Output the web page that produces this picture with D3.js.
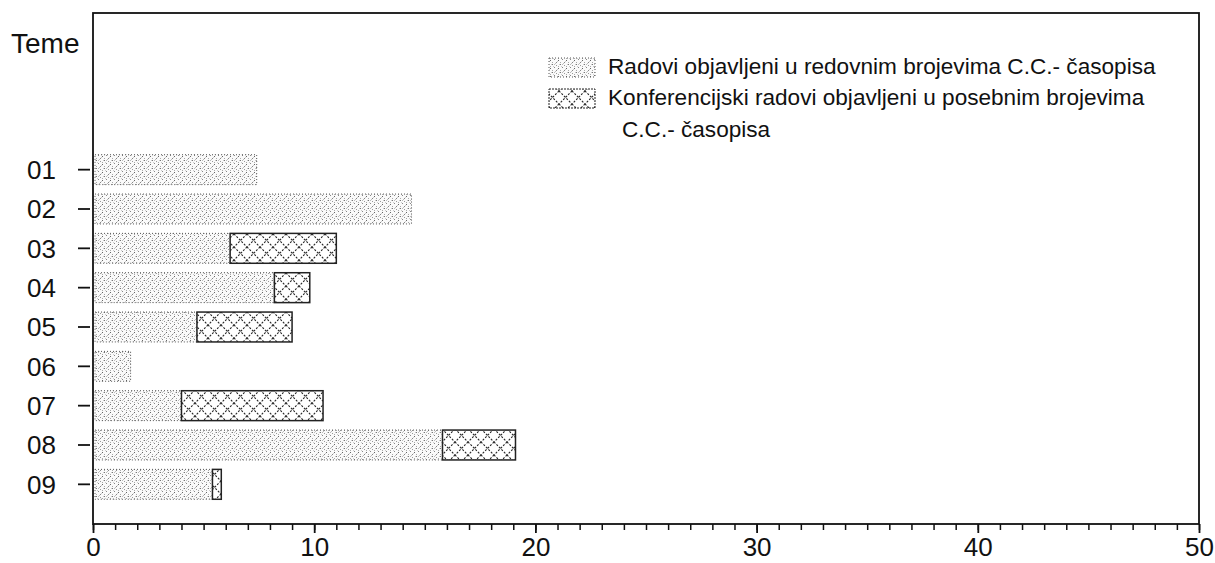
<!DOCTYPE html>
<html lang="hr">
<head>
    <meta charset="UTF-8">
    <title>Teme</title>
    <script src="https://d3js.org/d3.v7.min.js"></script>
    <style>
        body { margin: 0; background: #fff; }
        svg { display: block; font-family: "Liberation Sans", Arial, sans-serif; }
        .tick-label { font-size: 26px; fill: #111; }
        .legend-text { font-size: 22.6px; fill: #111; }
    </style>
</head>
<body>
<svg id="chart" width="1215" height="563"></svg>
<script>
    // teme i broj radova
    const categories = ["01", "02", "03", "04", "05", "06", "07", "08", "09"];
    const regular = [7.4, 14.4, 6.2, 8.2, 4.7, 1.7, 4.0, 15.8, 5.4];
    const conference = [0, 0, 4.8, 1.6, 4.3, 0, 6.4, 3.3, 0.4];
    const xTicks = [0, 10, 20, 30, 40, 50];
    const legendLabels = [
        ["Radovi objavljeni u redovnim brojevima C.C.- časopisa"],
        ["Konferencijski radovi objavljeni u posebnim brojevima", "C.C.- časopisa"]
    ];

    const svg = d3.select("#chart");
    const plotLeft = 93, plotRight = 1199, plotTop = 13, plotBottom = 524;

    const x = d3.scaleLinear().domain([0, 50]).range([plotLeft, plotRight]);
    const y = d3.scaleBand().domain(categories).range([150, 504]).paddingInner(0.24).paddingOuter(0.12);

    // uzorci
    const defs = svg.append("defs");
    const dots = defs.append("pattern")
        .attr("id", "dots").attr("patternUnits", "userSpaceOnUse")
        .attr("width", 8).attr("height", 8);
    dots.append("rect").attr("width", 8).attr("height", 8).attr("fill", "#fafafa");
    [[0.5, 0.5, "#777"], [4.5, 1.5, "#999"], [2.5, 3.5, "#888"], [6.5, 4.5, "#666"],
     [0.5, 6.5, "#aaa"], [4.5, 6.5, "#888"], [2.5, 0.5, "#bbb"], [6.5, 2.5, "#aaa"],
     [1.5, 2.5, "#ccc"], [5.5, 5.5, "#ccc"], [3.5, 7.5, "#bbb"], [7.5, 0.5, "#ccc"]]
        .forEach(d => dots.append("rect").attr("x", d[0] - 0.5).attr("y", d[1] - 0.5)
            .attr("width", 1).attr("height", 1).attr("fill", d[2]));

    const hatch = defs.append("pattern")
        .attr("id", "hatch").attr("patternUnits", "userSpaceOnUse")
        .attr("width", 13).attr("height", 13);
    hatch.append("rect").attr("width", 13).attr("height", 13).attr("fill", "#fff");
    hatch.append("path").attr("d", "M0,0L13,13M13,0L0,13")
        .attr("stroke", "#222").attr("stroke-width", 1.1).attr("stroke-dasharray", "2,1.5");

    // okvir
    svg.append("rect")
        .attr("x", plotLeft).attr("y", plotTop)
        .attr("width", plotRight - plotLeft).attr("height", plotBottom - plotTop)
        .attr("fill", "none").attr("stroke", "#111").attr("stroke-width", 1.8);

    // stupci
    const rows = categories.map((c, i) => ({ c, r: regular[i], k: conference[i] }));

    svg.append("g").selectAll("rect").data(rows).join("rect")
        .attr("x", x(0) + 2)
        .attr("y", d => y(d.c))
        .attr("width", d => x(d.r) - x(0) - 2)
        .attr("height", y.bandwidth())
        .attr("fill", "url(#dots)")
        .attr("stroke", "#555").attr("stroke-width", 1).attr("stroke-dasharray", "1,2");

    svg.append("g").selectAll("rect").data(rows.filter(d => d.k > 0)).join("rect")
        .attr("x", d => x(d.r))
        .attr("y", d => y(d.c))
        .attr("width", d => x(d.r + d.k) - x(d.r))
        .attr("height", y.bandwidth())
        .attr("fill", "url(#hatch)")
        .attr("stroke", "#222").attr("stroke-width", 1.5);

    // os y
    const yAxis = svg.append("g");
    yAxis.selectAll("line").data(categories).join("line")
        .attr("x1", 78).attr("x2", 90)
        .attr("y1", d => y(d) + y.bandwidth() / 2)
        .attr("y2", d => y(d) + y.bandwidth() / 2)
        .attr("stroke", "#111").attr("stroke-width", 1.8);
    yAxis.selectAll("text").data(categories).join("text")
        .attr("class", "tick-label")
        .attr("x", 56)
        .attr("y", d => y(d) + y.bandwidth() / 2)
        .attr("dy", "0.36em")
        .attr("text-anchor", "end")
        .text(d => d);

    svg.append("text").attr("class", "tick-label")
        .style("font-size", "28px")
        .attr("x", 11).attr("y", 53)
        .text("Teme");

    // os x
    const xAxis = svg.append("g").attr("transform", `translate(0,${plotBottom})`);
    xAxis.call(d3.axisBottom(x).ticks(50).tickSize(6).tickFormat(""))
        .call(g => g.select(".domain").remove())
        .call(g => g.selectAll(".tick line").attr("stroke", "#111").attr("stroke-width", 1.5));
    xAxis.append("g")
        .call(d3.axisBottom(x).tickValues(xTicks).tickSize(9).tickFormat(d3.format("d")))
        .call(g => g.select(".domain").remove())
        .call(g => g.selectAll(".tick line").attr("stroke", "#111").attr("stroke-width", 1.8))
        .call(g => g.selectAll(".tick text")
            .attr("class", "tick-label").attr("y", 32).attr("dy", null)
            .style("font-size", "26px").attr("font-family", null));

    // legenda
    const legend = svg.append("g");
    const fills = ["url(#dots)", "url(#hatch)"];
    legendLabels.forEach((lines, i) => {
        const ly = 58 + i * 31;
        legend.append("rect")
            .attr("x", 549).attr("y", ly)
            .attr("width", 46).attr("height", 19)
            .attr("fill", fills[i])
            .attr("stroke", i ? "#222" : "#555")
            .attr("stroke-width", 1)
            .attr("stroke-dasharray", i ? "2,1" : "1,2");
        lines.forEach((t, j) => {
            legend.append("text").attr("class", "legend-text")
                .attr("x", j ? 622 : 608)
                .attr("y", ly + 16 + j * 32)
                .text(t);
        });
    });
</script>
</body>
</html>
